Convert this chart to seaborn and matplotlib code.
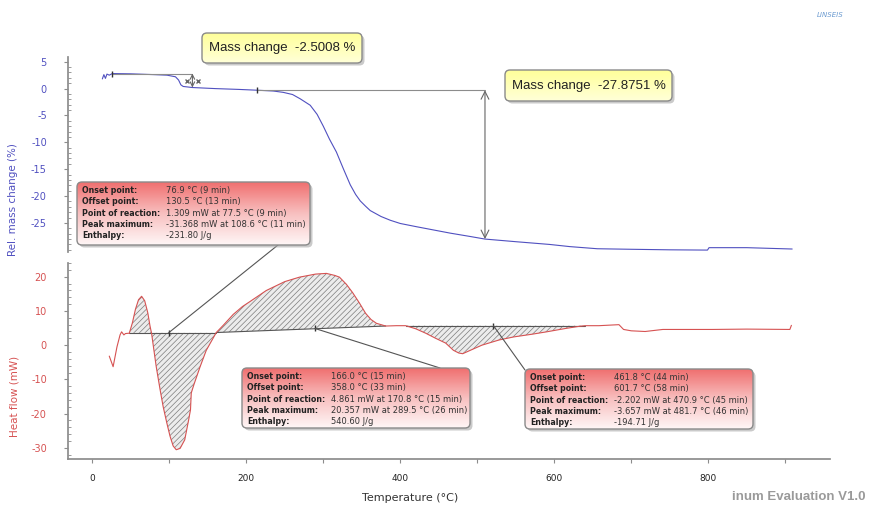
import numpy as np
import matplotlib
matplotlib.use("Agg")
import matplotlib.pyplot as plt
import seaborn as sns
from matplotlib.patches import FancyBboxPatch, ConnectionPatch
from matplotlib.colors import LinearSegmentedColormap
from matplotlib.ticker import MultipleLocator, FixedLocator

# TGA curve (relative mass change, %)
tga_temp = [13, 15, 17, 19, 22, 26, 50, 80, 97, 108, 112, 115, 118, 130, 160, 190, 214,
            235, 248, 260, 270, 283, 292, 300, 308, 317, 326, 335, 342, 348, 355, 361,
            375, 387, 400, 421, 443, 465, 490, 510, 551, 594, 620, 656, 700, 750, 799,
            801, 850, 909]
tga_mass = [1.8, 2.6, 1.9, 2.7, 2.5, 2.8, 2.75, 2.6, 2.5, 2.2, 1.6, 0.7, 0.4, 0.2, 0.0,
            -0.15, -0.3, -0.45, -0.7, -1.1, -1.9, -3.1, -4.8, -7.0, -9.4, -11.8, -14.9,
            -17.9, -19.7, -20.9, -21.9, -22.7, -23.8, -24.5, -25.1, -25.7, -26.3, -26.9,
            -27.5, -28.0, -28.5, -29.0, -29.4, -29.8, -29.9, -30.0, -30.05, -29.6, -29.6,
            -29.85]

# DSC curve (heat flow, mW)
dsc_temp = [22, 27, 32, 36, 38, 41, 43, 48, 52, 56, 60, 64, 68, 72, 75, 77, 80, 83, 88,
            92, 97, 101, 105, 109, 114, 120, 125, 127.5, 128.5, 132, 140, 148, 155, 161,
            170, 183, 195, 205, 226, 250, 269, 290, 304, 315, 321, 330, 338, 347, 355,
            362, 369, 381, 395, 407, 420, 433, 446, 459, 469, 476, 481, 485, 493, 506,
            528, 547, 571, 590, 615, 632, 640, 658, 684, 690, 700, 718, 741, 806, 850,
            906, 908]
dsc_heat = [-3.2, -6.3, -0.5, 3.0, 3.9, 3.0, 3.4, 3.5, 6.5, 10.5, 13.3, 14.3, 13.0, 9.5,
            5.5, 3.4, -1.5, -6.3, -13.0, -18.0, -23.0, -26.7, -29.5, -30.6, -30.2, -27.7,
            -22.0, -18.9, -14.0, -11.5, -6.3, -1.5, 1.3, 3.7, 5.8, 9.0, 11.3, 12.8, 16.0,
            18.6, 19.9, 20.8, 21.0, 20.4, 19.9, 17.8, 15.4, 12.3, 9.3, 7.5, 6.4, 5.6, 5.7,
            5.7, 4.8, 3.5, 2.0, 0.6, -1.5, -2.3, -2.5, -2.1, -1.3, 0.0, 1.5, 2.4, 3.2, 3.9,
            4.9, 5.5, 5.7, 5.7, 6.0, 4.6, 4.2, 4.0, 4.6, 4.6, 4.7, 4.6, 5.8]

# integrated peaks: limits and baseline ends
peak_start = [48, 161, 407]
peak_end = [161, 381, 640]
base_start = [3.6, 3.7, 5.7]
base_end = [3.6, 5.6, 5.7]
react_temp = [99, 289, 521]
react_heat = [3.6, 4.9, 5.7]

box_labels = ["Onset point:", "Offset point:", "Point of reaction:", "Peak maximum:", "Enthalpy:"]
peak1_vals = ["76.9 °C (9 min)", "130.5 °C (13 min)", "1.309 mW at 77.5 °C (9 min)",
              "-31.368 mW at 108.6 °C (11 min)", "-231.80 J/g"]
peak2_vals = ["166.0 °C (15 min)", "358.0 °C (33 min)", "4.861 mW at 170.8 °C (15 min)",
              "20.357 mW at 289.5 °C (26 min)", "540.60 J/g"]
peak3_vals = ["461.8 °C (44 min)", "601.7 °C (58 min)", "-2.202 mW at 470.9 °C (45 min)",
              "-3.657 mW at 481.7 °C (46 min)", "-194.71 J/g"]

# mass steps: (T start, T end, upper level, lower level)
step1 = (26, 130, 2.8, 0.2)
step2 = (214, 510, -0.3, -28.0)
mass_labels = ["Mass change  -2.5008 %", "Mass change  -27.8751 %"]

sns.set_theme(style="white")
plt.rcParams["font.family"] = ["DejaVu Sans"]
plt.rcParams["axes.unicode_minus"] = False
plt.rcParams["hatch.linewidth"] = 0.5

BLUE = "#5050c0"
RED = "#d65252"
GREY = "#8c8c8c"

fig = plt.figure(figsize=(8.69, 5.08), dpi=100)
ax_tg = fig.add_axes([0.0779, 0.504, 0.8771, 0.384])
ax_dsc = fig.add_axes([0.0779, 0.0965, 0.8771, 0.3855])
ov = fig.add_axes([0, 0, 1, 1], zorder=10)
ov.set_xlim(0, 869)
ov.set_ylim(508, 0)
ov.set_autoscale_on(False)
ov.axis("off")

# curves
sns.lineplot(x=tga_temp, y=tga_mass, ax=ax_tg, color=BLUE, lw=0.8, sort=False)
sns.lineplot(x=dsc_temp, y=dsc_heat, ax=ax_dsc, color=RED, lw=0.8, sort=False, zorder=3)

t = np.array(dsc_temp)
h = np.array(dsc_heat)
for s, e, b0, b1 in zip(peak_start, peak_end, base_start, base_end):
    m = (t >= s) & (t <= e)
    base = b0 + (b1 - b0) * (t[m] - s) / (e - s)
    ax_dsc.fill_between(t[m], h[m], base, facecolor="#ececec", edgecolor="#7c7c7c",
                        hatch="//////", lw=0, zorder=1)
    ax_dsc.plot([s, e], [b0, b1], color="#555555", lw=0.8, zorder=2)
ax_dsc.plot(react_temp, react_heat, ls="none", marker="|", ms=4, color="#333333", zorder=4)

# mass steps
for (t0, t1, hi, lo) in [step1, step2]:
    ax_tg.plot([t0, t1], [hi, hi], color=GREY, lw=0.8)
    ax_tg.plot([t0], [hi], marker="|", ms=4, color="#333333")
    ax_tg.annotate("", xy=(t1, lo), xytext=(t1, hi),
                   arrowprops=dict(arrowstyle="<->", color="#666666", lw=0.8,
                                   shrinkA=0, shrinkB=0,
                                   mutation_scale=8 if t1 < 200 else 14))
ax_tg.plot([step1[1] - 7, step1[1] + 7], [1.5, 1.5], ls="none", marker="x", ms=3,
           color="#666666")

# axes styling
for ax, col, lim, ticks, minor, lab in [
        (ax_tg, BLUE, (-30.4, 5.9), range(-25, 6, 5), 1, "Rel. mass change (%)"),
        (ax_dsc, RED, (-33.3, 24), range(-30, 21, 10), 2, "Heat flow (mW)")]:
    ax.set_xlim(-32, 958)
    ax.set_ylim(*lim)
    ax.yaxis.set_major_locator(FixedLocator(list(ticks)))
    ax.yaxis.set_minor_locator(MultipleLocator(minor))
    for side in ["top", "right"]:
        ax.spines[side].set_visible(False)
    ax.spines["left"].set_color(GREY)
    ax.spines["bottom"].set_color(GREY)
    ax.tick_params(axis="y", which="major", left=True, length=3, width=0.8, color=GREY,
                   labelsize=7, labelcolor=col, pad=12)
    ax.tick_params(axis="y", which="minor", left=True, length=2, width=0.6, color=GREY,
                   direction="in")
    ax.set_ylabel(lab, color=col, fontsize=7.5)
    ax.set_xlabel("")

ax_tg.spines["bottom"].set_visible(False)
ax_tg.tick_params(axis="x", bottom=False, labelbottom=False)
ax_tg.yaxis.set_label_coords(-0.065, 0.27)
ax_dsc.yaxis.set_label_coords(-0.0626, 0.32)

ax_dsc.xaxis.set_major_locator(FixedLocator([0, 200, 400, 600, 800]))
ax_dsc.xaxis.set_minor_locator(FixedLocator([100, 300, 500, 700, 900]))
ax_dsc.tick_params(axis="x", which="both", bottom=True, length=3, width=0.8, color=GREY,
                   labelsize=6.5, labelcolor="#222222", pad=8)
ax_dsc.set_xlabel("Temperature (°C)", fontsize=8, color="#333333")
ax_dsc.xaxis.set_label_coords(0.449, -0.175)


def grad_box(x, y, w, h, colors):
    shadow = FancyBboxPatch((x + 2.5, y + 2.5), w, h, boxstyle="round,pad=0,rounding_size=5",
                            fc="#a8a8a8", ec="none", alpha=0.6, zorder=3)
    ov.add_patch(shadow)
    frame = FancyBboxPatch((x, y), w, h, boxstyle="round,pad=0,rounding_size=5",
                           fc="none", ec="#8a8a8a", lw=1, zorder=5)
    ov.add_patch(frame)
    cmap = LinearSegmentedColormap.from_list("g", colors)
    im = ov.imshow(np.linspace(0, 1, 64)[:, None], cmap=cmap, extent=(x, x + w, y + h, y),
                   aspect="auto", zorder=4, interpolation="bilinear")
    im.set_clip_path(frame)


RED_BOX = ["#f07070", "#f8c0c0", "#fff6f6"]
YEL_BOX = ["#ffff9a", "#ffffd8"]

boxes = [((77, 182, 233, 63), peak1_vals, (278, 245)),
         ((242, 368, 228, 60), peak2_vals, (440, 368)),
         ((525, 369, 228, 60), peak3_vals, (525, 370))]
for k, ((x, y, w, hh), vals, anchor) in enumerate(boxes):
    con = ConnectionPatch(xyA=(react_temp[k], react_heat[k]), coordsA=ax_dsc.transData,
                          xyB=anchor, coordsB=ov.transData, color="#555555", lw=0.8,
                          zorder=2)
    ov.add_artist(con)
    grad_box(x, y, w, hh, RED_BOX)
    for i, (lab, val) in enumerate(zip(box_labels, vals)):
        yy = y + 8.5 + i * 11.3
        ov.text(x + 5, yy, lab, fontsize=5.7, fontweight="bold", va="center",
                color="#222222", zorder=6)
        ov.text(x + 89, yy, val, fontsize=6, va="center", color="#333333", zorder=6)

for (x, y, w, hh), lab in zip([(202, 33, 160, 30), (505, 70, 167, 31)], mass_labels):
    grad_box(x, y, w, hh, YEL_BOX)
    ov.text(x + 7, y + hh / 2, lab, fontsize=9.5, family="Liberation Sans", va="center",
            color="#222222", zorder=6)

ov.text(817, 15, "LINSEIS", fontsize=5, style="italic", color="#6a9ad0", va="center")
ov.text(866, 497, "inum Evaluation V1.0", fontsize=9.5, fontweight="bold",
        family="Liberation Sans", color="#9a9a9a", va="center", ha="right")

fig.savefig("out.png", dpi=100)
